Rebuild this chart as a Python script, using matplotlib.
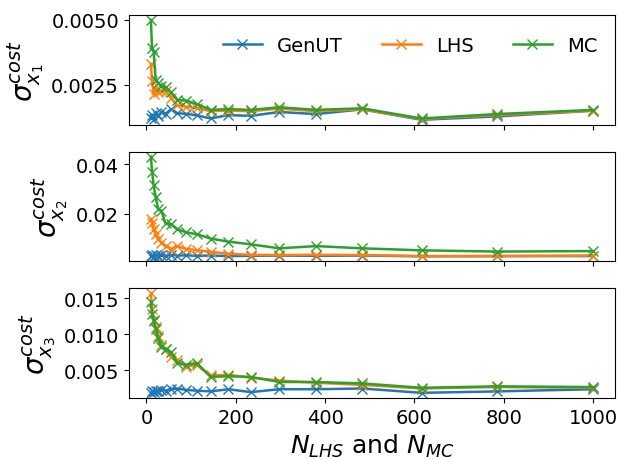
import numpy as np
import matplotlib
matplotlib.use('Agg')
import matplotlib.pyplot as plt

# sample sizes (log spaced 10..1000)
N = [10, 12.7, 16.2, 20.7, 26.4, 33.6, 42.8, 54.6, 69.5, 88.6,
     112.9, 143.8, 183.3, 233.6, 297.6, 379.3, 483.3, 615.8, 784.8, 1000]

# x1
genut_x1 = [0.00120, 0.00135, 0.00118, 0.00140, 0.00130, 0.00145, 0.00138, 0.00155, 0.00140, 0.00138,
            0.00132, 0.00120, 0.00133, 0.00130, 0.00145, 0.00137, 0.00155, 0.00115, 0.00128, 0.00150]
lhs_x1 = [0.00330, 0.00265, 0.00215, 0.00235, 0.00220, 0.00225, 0.00225, 0.00200, 0.00170, 0.00165,
          0.00160, 0.00148, 0.00150, 0.00148, 0.00158, 0.00148, 0.00155, 0.00118, 0.00133, 0.00150]
mc_x1 = [0.00498, 0.00389, 0.00376, 0.00268, 0.00255, 0.00245, 0.00240, 0.00220, 0.00191, 0.00189,
         0.00175, 0.00153, 0.00156, 0.00153, 0.00163, 0.00153, 0.00159, 0.00120, 0.00137, 0.00153]

# x2
genut_x2 = [0.0032, 0.0034, 0.0031, 0.0035, 0.0033, 0.0034, 0.0032, 0.0035, 0.0033, 0.0034,
            0.0032, 0.0033, 0.0031, 0.0032, 0.0033, 0.0032, 0.0033, 0.0030, 0.0031, 0.0031]
lhs_x2 = [0.0180, 0.0165, 0.0140, 0.0120, 0.0100, 0.0085, 0.0072, 0.0060, 0.0070, 0.0060,
          0.0055, 0.0048, 0.0040, 0.0036, 0.0035, 0.0036, 0.0035, 0.0031, 0.0031, 0.0033]
mc_x2 = [0.0430, 0.0369, 0.0315, 0.0268, 0.0220, 0.0213, 0.0162, 0.0159, 0.0139, 0.0126,
         0.0119, 0.0101, 0.0089, 0.0078, 0.0062, 0.0071, 0.0062, 0.0054, 0.0049, 0.0051]

# x3
genut_x3 = [0.0019, 0.0021, 0.0020, 0.0022, 0.0021, 0.0023, 0.0022, 0.0024, 0.0025, 0.0023,
            0.0022, 0.0021, 0.0024, 0.0020, 0.0024, 0.0024, 0.0025, 0.0019, 0.0021, 0.0024]
lhs_x3 = [0.0157, 0.0135, 0.0118, 0.0110, 0.0098, 0.0085, 0.0079, 0.0069, 0.0065, 0.0055,
          0.0058, 0.0043, 0.0044, 0.0040, 0.0036, 0.0033, 0.0030, 0.0025, 0.0027, 0.0026]
mc_x3 = [0.0145, 0.0128, 0.0120, 0.0108, 0.0095, 0.0082, 0.0080, 0.0075, 0.0060, 0.0058,
         0.0060, 0.0041, 0.0042, 0.0041, 0.0034, 0.0034, 0.0032, 0.0026, 0.0028, 0.0027]

ylabels = [r'$\sigma^{cost}_{x_1}$', r'$\sigma^{cost}_{x_2}$', r'$\sigma^{cost}_{x_3}$']
data = [(genut_x1, lhs_x1, mc_x1), (genut_x2, lhs_x2, mc_x2), (genut_x3, lhs_x3, mc_x3)]
yticks = [[0.0025, 0.0050], [0.02, 0.04], [0.005, 0.010, 0.015]]
yfmt = ['%.4f', '%.2f', '%.3f']

fig, axs = plt.subplots(3, 1, sharex=True, figsize=(6.19, 4.6), dpi=100)

for ax, (g, l, m), lab, yt, fm in zip(axs, data, ylabels, yticks, yfmt):
    ax.plot(N, g, 'x-', ms=7, lw=1.8, label='GenUT')
    ax.plot(N, l, 'x-', ms=7, lw=1.8, label='LHS')
    ax.plot(N, m, 'x-', ms=7, lw=1.8, label='MC')
    ax.set_ylabel(lab, fontsize=20)
    ax.set_yticks(yt)
    ax.set_yticklabels([fm % v for v in yt])
    ax.tick_params(labelsize=14)

axs[0].legend(ncol=3, frameon=False, fontsize=14, loc='upper right',
              bbox_to_anchor=(1.0, 0.97))
axs[2].set_xlabel(r'$N_{LHS}$ and $N_{MC}$', fontsize=18)
axs[2].set_xticks([0, 200, 400, 600, 800, 1000])

fig.subplots_adjust(left=0.208, right=0.994, top=0.965, bottom=0.133, hspace=0.245)
fig.savefig('out.png')
